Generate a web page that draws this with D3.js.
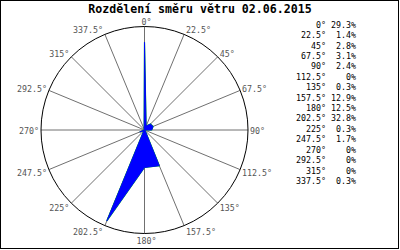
<!DOCTYPE html>
<html>
<head>
<meta charset="utf-8">
<script src="https://cdn.jsdelivr.net/npm/d3@7"></script>
<style>
  body { margin: 0; background: #fff; }
  svg { display: block; }
  text { font-family: "DejaVu Sans Mono", monospace; }
</style>
</head>
<body>
<div id="chart"></div>
<script>
// wind direction data (percent of time per direction)
const title = "Rozdělení směru větru 02.06.2015";
const directions = [0, 22.5, 45, 67.5, 90, 112.5, 135, 157.5, 180, 202.5, 225, 247.5, 270, 292.5, 315, 337.5];
const values = [29.3, 1.4, 2.8, 3.1, 2.4, 0, 0.3, 12.9, 12.5, 32.8, 0.3, 1.7, 0, 0, 0, 0.3];
const dirLabels = directions.map(d => d + "°");
const valueLabels = values.map(v => v + "%");

const width = 400, height = 250;
const cx = 144.5, cy = 130, R = 103.5;

const svg = d3.select("#chart").append("svg")
    .attr("width", width)
    .attr("height", height);

// frame
svg.append("rect")
    .attr("x", 0.5).attr("y", 0.5)
    .attr("width", 398).attr("height", 248)
    .attr("fill", "#fff")
    .attr("stroke", "#000");

// title
svg.append("text")
    .attr("x", 200)
    .attr("y", 13)
    .attr("text-anchor", "middle")
    .attr("font-size", 11.6)
    .attr("font-weight", "bold")
    .attr("fill", "#000")
    .text(title);

// scales
const angle = d3.scaleLinear().domain([0, 360]).range([0, 2 * Math.PI]);
const radius = d3.scaleLinear().domain([0, d3.max(values)]).range([0, R * 0.95]);

const g = svg.append("g").attr("transform", `translate(${cx},${cy})`);

// spokes
g.selectAll("line.spoke")
    .data(directions)
    .enter()
    .append("line")
    .attr("class", "spoke")
    .attr("x1", 0).attr("y1", 0)
    .attr("x2", d => R * Math.sin(angle(d)))
    .attr("y2", d => -R * Math.cos(angle(d)))
    .attr("stroke", "#707070")
    .attr("stroke-width", 1);

// outer circle
g.append("circle")
    .attr("r", R)
    .attr("fill", "none")
    .attr("stroke", "#000")
    .attr("stroke-width", 1);

// rose polygon: green outline mostly hidden under blue fill
const rose = d3.lineRadial()
    .angle((d, i) => angle(directions[i]))
    .radius(d => radius(d))
    .curve(d3.curveLinearClosed);

g.append("path")
    .attr("d", rose(values))
    .attr("fill", "none")
    .attr("stroke", "#00cc00")
    .attr("stroke-width", 1.2);

g.append("path")
    .attr("d", rose(values))
    .attr("fill", "#0000ff")
    .attr("stroke", "#0000ff")
    .attr("stroke-width", 0.9);

// direction labels around the circle
g.selectAll("text.dir")
    .data(directions)
    .enter()
    .append("text")
    .attr("class", "dir")
    .attr("font-size", 8.3)
    .attr("fill", "#555")
    .attr("dominant-baseline", "central")
    .attr("text-anchor", d => {
        const s = Math.sin(angle(d));
        return s > 0.05 ? "start" : s < -0.05 ? "end" : "middle";
    })
    .attr("x", d => {
        const s = Math.sin(angle(d));
        const px = R * s;
        return Math.abs(s) < 0.05 ? px + 2 : px + (s > 0 ? 2 : -2);
    })
    .attr("y", d => -R * Math.cos(angle(d)) - 6 * Math.cos(angle(d)) + 1)
    .text((d, i) => dirLabels[i]);

// table on the right
const rowY = d3.scaleLinear().domain([0, directions.length - 1]).range([24.7, 181]);

svg.selectAll("text.tdir")
    .data(dirLabels)
    .enter()
    .append("text")
    .attr("class", "tdir")
    .attr("font-size", 8.3)
    .attr("fill", "#000")
    .attr("dominant-baseline", "central")
    .attr("text-anchor", "end")
    .attr("x", 326)
    .attr("y", (d, i) => rowY(i))
    .text(d => d);

svg.selectAll("text.tval")
    .data(valueLabels)
    .enter()
    .append("text")
    .attr("class", "tval")
    .attr("font-size", 8.3)
    .attr("fill", "#000")
    .attr("dominant-baseline", "central")
    .attr("text-anchor", "end")
    .attr("x", 356)
    .attr("y", (d, i) => rowY(i))
    .text(d => d);
</script>
</body>
</html>
